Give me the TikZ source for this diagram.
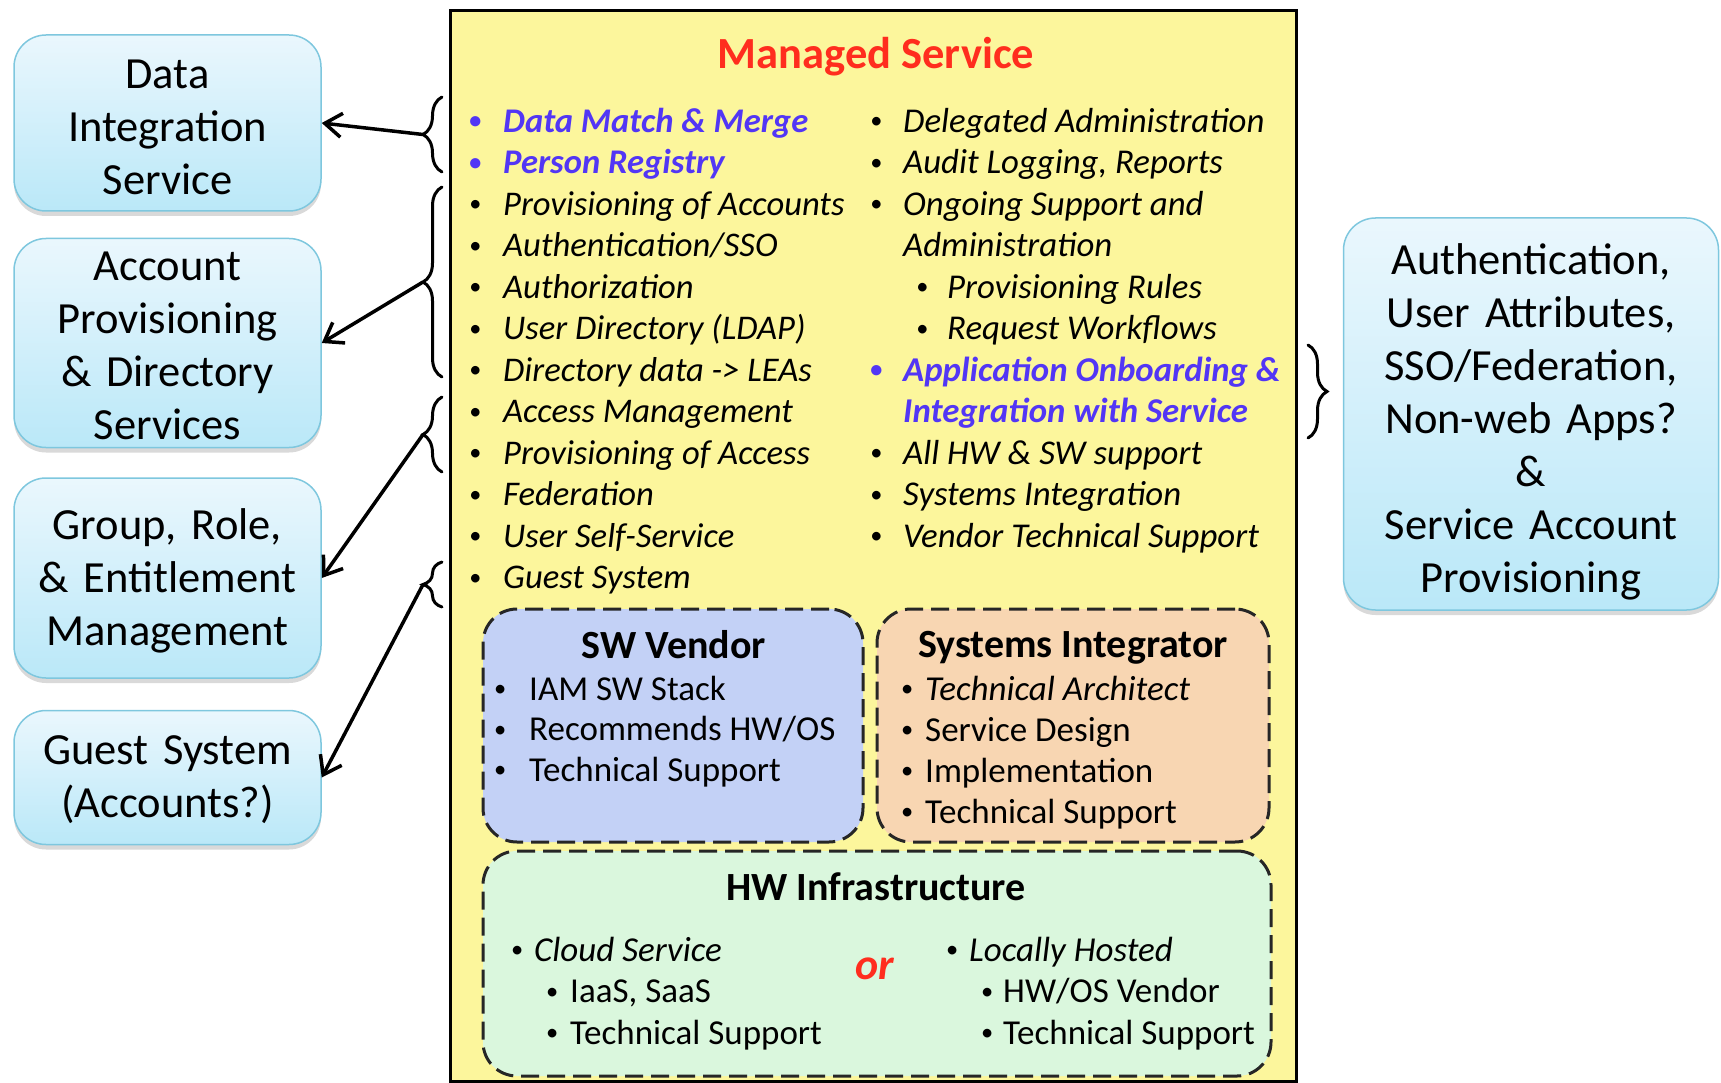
\documentclass[tikz,border=0pt]{standalone}
\usepackage{fontspec}
\setmainfont{Carlito}
\usepackage{xcolor}
\usepackage{tikz}
\usetikzlibrary{arrows.meta,decorations.pathreplacing,shadows}
\usetikzlibrary{positioning}
\definecolor{msyellow}{HTML}{FCF69C}
\definecolor{msred}{HTML}{FF2D1E}
\definecolor{msblue}{HTML}{5236F5}
\definecolor{swfill}{HTML}{C3D1F6}
\definecolor{sifill}{HTML}{F8D6B2}
\definecolor{hwfill}{HTML}{DAF7DD}
\definecolor{svctop}{HTML}{EAF7FD}
\definecolor{svcbot}{HTML}{BAE8F8}
\definecolor{svcline}{HTML}{7EC7DE}
\newcommand{\msdot}{\raisebox{0.09em}{\scalebox{0.7}{\textbullet}}}
\newcommand{\msbul}[1][28pt]{\makebox[0pt]{\msdot}\hspace*{#1}}
\tikzset{svcbox/.style={draw=svcline, line width=1.5pt, rounded corners=32pt,
    top color=svctop, bottom color=svcbot, align=center, inner xsep=0pt, inner ysep=0pt,
    font=\fontsize{44.5}{53}\selectfont,
    drop shadow={shadow xshift=0pt, shadow yshift=-5pt, opacity=0.25, fill=black!60}},
  subbox/.style={draw=black!85, dashed, dash pattern=on 18pt off 8pt, line width=3pt,
    rounded corners=34pt, inner sep=0pt},
  subtitle/.style={font=\bfseries\fontsize{40}{44}\selectfont},
  listtxt/.style={anchor=base west, align=left, inner sep=0pt},
  brc/.style={decorate, decoration={brace, amplitude=19pt}, line width=3pt, line cap=round},
  msarrow/.style={-{Straight Barb[length=17pt, width=24pt]}, line width=3.5pt}}

\begin{document}
\begin{tikzpicture}[x=1pt, y=-1pt]
  \useasboundingbox (0,0) rectangle (1721,1083);
  % service boxes on the left
  \node[svcbox, text width=307pt, minimum height=176pt] (dis) at (167.5,123) {\rule{0pt}{37pt}Data\\Integration\\Service};
  \node[svcbox, text width=307pt, minimum height=209pt, below=26pt of dis] (apd) {\rule{0pt}{34pt}Account\\Provisioning\\\& Directory\\Services};
  \node[svcbox, text width=307pt, minimum height=200pt, below=29pt of apd] (gre) {\rule{0pt}{36pt}Group, Role,\\\& Entitlement\\Management};
  \node[svcbox, text width=307pt, minimum height=134pt, below=31pt of gre] (gst) {\rule{0pt}{33pt}Guest System\\(Accounts?)};
  \node[svcbox, text width=375pt, minimum height=392pt] (asf) at (1531,414)
    {\rule{0pt}{46pt}Authentication,\\User Attributes,\\SSO/Federation,\\Non-web Apps?\\\&\\Service Account\\Provisioning};

  % managed service
  \node[draw, line width=3pt, fill=msyellow, minimum width=846pt, minimum height=1070pt, inner sep=0pt] (ms) at (873,546) {};
  \node[text=msred, font=\bfseries\fontsize{44.5}{50}\selectfont] (mstitle) at (876,56.5) {Managed Service};
  % base anchor = baseline of the last line
  \node[listtxt, font=\itshape\fontsize{34.6}{41.5}\selectfont] (lcol) at (475,588.5)
    {{\color{msblue}\bfseries\msbul Data Match \& Merge}\\
     {\color{msblue}\bfseries\msbul Person Registry}\\
     \msbul Provisioning of Accounts\\
     \msbul Authentication/SSO\\
     \msbul Authorization\\
     \msbul User Directory (LDAP)\\
     \msbul Directory data -> LEAs\\
     \msbul Access Management\\
     \msbul Provisioning of Access\\
     \msbul Federation\\
     \msbul User Self-Service\\
     \msbul Guest System};
  \node[listtxt, font=\itshape\fontsize{34.8}{41.5}\selectfont] (rcol) at (876,547)
    {\msbul[27pt]Delegated Administration\\
     \msbul[27pt]Audit Logging, Reports\\
     \msbul[27pt]Ongoing Support and\\
     \hspace*{27pt}Administration\\
     \hspace*{46pt}\msbul[25pt]Provisioning Rules\\
     \hspace*{46pt}\msbul[25pt]Request Workflows\\
     {\color{msblue}\bfseries\msbul[27pt]Application Onboarding \&}\\
     {\color{msblue}\bfseries\hspace*{27pt}Integration with Service}\\
     \msbul[27pt]All HW \& SW support\\
     \msbul[27pt]Systems Integration\\
     \msbul[27pt]Vendor Technical Support};

  % providers
  \node[subbox, fill=swfill, minimum width=380pt, minimum height=233pt] (swv) at (673,725.5) {};
  \node[subbox, fill=sifill, minimum width=392pt, minimum height=233pt] (sig) at (1073,725.5) {};
  \node[subbox, fill=hwfill, minimum width=788pt, minimum height=225pt] (hwi) at (877,963.5) {};
  \node[subtitle] (swvt) at (674,645) {SW Vendor};
  \node[subtitle] (sigt) at (1073,648) {Systems Integrator};
  \node[subtitle] (hwit) at (876,887) {HW Infrastructure};
  \node[listtxt, font=\fontsize{35}{40.5}\selectfont] (swvl) at (500,781)
    {\msbul[29pt]IAM SW Stack\\
     \msbul[29pt]Recommends HW/OS\\
     \msbul[29pt]Technical Support};
  \node[listtxt, font=\fontsize{35}{41}\selectfont] (sigl) at (907,823)
    {\msbul[18pt]\textit{Technical Architect}\\
     \msbul[18pt]Service Design\\
     \msbul[18pt]Implementation\\
     \msbul[18pt]Technical Support};
  \node[listtxt, font=\fontsize{35}{41.5}\selectfont] (cld) at (517,1044)
    {\msbul[17pt]\textit{Cloud Service}\\
     \hspace*{35pt}\msbul[18pt]IaaS, SaaS\\
     \hspace*{35pt}\msbul[18pt]Technical Support};
  \node[listtxt, font=\fontsize{35}{41.5}\selectfont] (loc) at (952,1044)
    {\msbul[17pt]\textit{Locally Hosted}\\
     \hspace*{35pt}\msbul[16pt]HW/OS Vendor\\
     \hspace*{35pt}\msbul[16pt]Technical Support};
  \node[text=msred, font=\bfseries\itshape\fontsize{44}{48}\selectfont] (or) at (875,969) {or};

  % braces and arrows
  \draw[brc] (442,172) -- (442,97);
  \draw[brc] (442,377) -- (442,187);
  \draw[brc] (442,472) -- (442,397);
  \draw[brc] (442,607) -- (442,562);
  \draw[brc] (1308,345) -- (1308,438);
  \coordinate (br1) at (423,134.5);
  \coordinate (br2) at (423,282);
  \coordinate (br3) at (423,434.5);
  \coordinate (br4) at (423,584.5);
  \draw[msarrow] (br1) -- (dis.east);
  \draw[msarrow] (br2) -- (apd.east);
  \draw[msarrow] (br3) -- (gre.east);
  \draw[msarrow] (br4) -- (gst.east);
\end{tikzpicture}
\end{document}
